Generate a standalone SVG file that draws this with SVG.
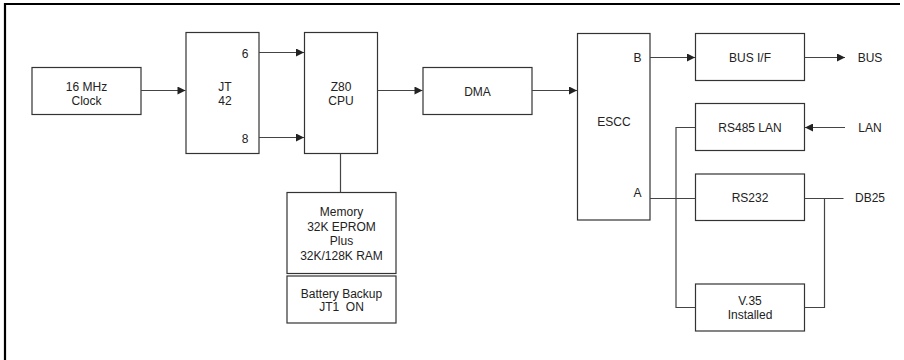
<svg xmlns="http://www.w3.org/2000/svg" width="904" height="360" viewBox="0 0 904 360">
<style>
.box{fill:#fff;stroke:#333;stroke-width:1.2}
.t{font-family:"Liberation Sans",Arial,sans-serif;font-size:12px;fill:#222;text-anchor:middle}
.c{fill:none;stroke:#444;stroke-width:1.2}
.a{fill:none;stroke:#444;stroke-width:1.2;marker-end:url(#ah)}
</style>
<defs>
<marker id="ah" viewBox="0 0 10 10" refX="10" refY="5" markerWidth="9" markerHeight="8" markerUnits="userSpaceOnUse" orient="auto">
<path d="M0,0 L10,5 L0,10 z" fill="#222"/>
</marker>
</defs>
<rect width="904" height="360" fill="#fff"/>
<g id="frame"><path d="M5,360 V4 H900" fill="none" stroke="#000" stroke-width="2.2"/></g>
<g id="clock"><rect class="box" x="32" y="67.5" width="109" height="47"/><text class="t" x="86.5" y="90.5">16 MHz</text><text class="t" x="86.5" y="104.5">Clock</text></g>
<g id="jt42"><rect class="box" x="186" y="32.5" width="73" height="121"/><text class="t" x="225" y="90.5">JT</text><text class="t" x="225" y="104.5">42</text><text class="t" x="245" y="57.5">6</text><text class="t" x="245" y="142.5">8</text></g>
<g id="z80"><rect class="box" x="304.5" y="32.5" width="73" height="121"/><text class="t" x="341" y="90.5">Z80</text><text class="t" x="341" y="104.5">CPU</text></g>
<g id="dma"><rect class="box" x="423" y="67.5" width="109" height="47"/><text class="t" x="477.5" y="95.5">DMA</text></g>
<g id="escc"><rect class="box" x="577.5" y="33.5" width="72.5" height="186.5"/><text class="t" x="614" y="125.5">ESCC</text><text class="t" x="637.5" y="61.5">B</text><text class="t" x="637.5" y="197">A</text></g>
<g id="busif"><rect class="box" x="695.5" y="33.5" width="109" height="47"/><text class="t" x="750" y="61.5">BUS I/F</text></g>
<g id="rs485"><rect class="box" x="695.5" y="103.5" width="109" height="47"/><text class="t" x="750" y="132">RS485 LAN</text></g>
<g id="rs232"><rect class="box" x="695.5" y="174" width="109" height="46.5"/><text class="t" x="750" y="202">RS232</text></g>
<g id="v35"><rect class="box" x="695.5" y="284" width="109" height="47"/><text class="t" x="750" y="305">V.35</text><text class="t" x="750" y="319">Installed</text></g>
<g id="memory"><rect class="box" x="287" y="192.5" width="109" height="81"/><text class="t" x="341.5" y="216">Memory</text><text class="t" x="341.5" y="230.5">32K EPROM</text><text class="t" x="341.5" y="245">Plus</text><text class="t" x="341.5" y="259.5">32K/128K RAM</text></g>
<g id="battery"><rect class="box" x="287" y="276" width="109" height="47"/><text class="t" x="341.5" y="297.5">Battery Backup</text><text class="t" x="341.5" y="311" xml:space="preserve">JT1  ON</text></g>
<g id="labels"><text class="t" x="870" y="61.5">BUS</text><text class="t" x="870" y="132">LAN</text><text class="t" x="870" y="202">DB25</text></g>
<g id="connectors">
<path class="a" d="M141,90.5 H185.5"/>
<path class="a" d="M259,52.5 H304"/>
<path class="a" d="M259,137.5 H304"/>
<path class="a" d="M377.5,90.5 H422.5"/>
<path class="a" d="M532,90.5 H577"/>
<path class="c" d="M340.5,153.5 V192.5"/>
<path class="a" d="M650,57.5 H695"/>
<path class="a" d="M804.5,57.5 H845"/>
<path class="a" d="M845,127.5 H805"/>
<path class="c" d="M650,198.5 H695.5"/>
<path class="c" d="M695.5,127.5 H676 V307.5 H695.5"/>
<path class="c" d="M804.5,198.5 H843.5"/>
<path class="c" d="M824.5,198.5 V307.5 H804.5"/>
</g>
</svg>
